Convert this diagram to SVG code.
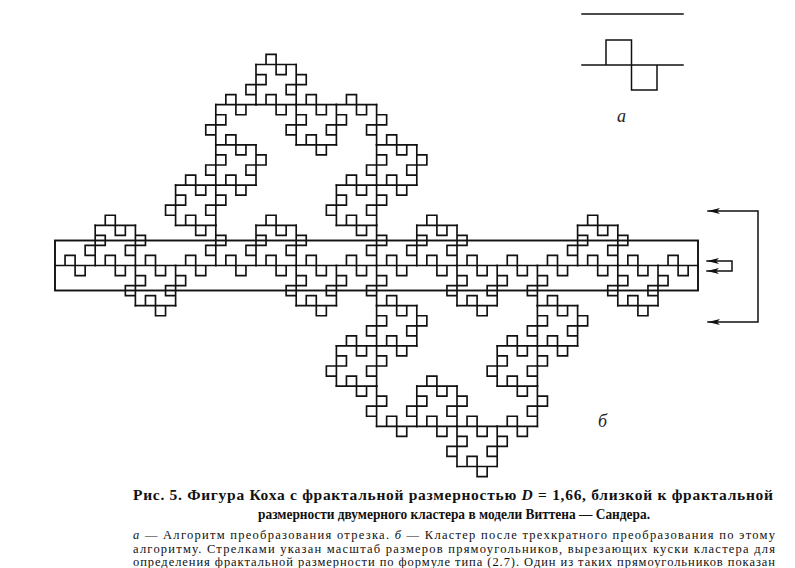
<svg xmlns="http://www.w3.org/2000/svg" width="795" height="568" viewBox="0 0 795 568">
<style>
.ln{fill:none;stroke:#111;stroke-width:1.5;stroke-linecap:square}
.fr{fill:none;stroke:#111;stroke-width:0.165;stroke-linecap:square}
.cap{font-family:"Liberation Serif","DejaVu Serif",serif;fill:#111}
.big{font-size:15.5px;font-weight:bold}
.small{font-size:12.5px}
.lbl{font-family:"Liberation Serif","DejaVu Serif",serif;font-style:italic;font-size:18px;fill:#222}
</style>
<defs>
<marker id="ah" viewBox="0 0 12 8" refX="12" refY="4" markerWidth="12" markerHeight="8" markerUnits="userSpaceOnUse" orient="auto-start-reverse">
<path d="M0,1 L12,4 L0,7 L3,4 Z" fill="#111"/>
</marker>
<path id="g3" d="M0,0H4M1,0V-1H2V1H3V0"/>
<g id="g2">
<use href="#g3"/>
<use href="#g3" transform="translate(4,0)"/>
<use href="#g3" transform="translate(8,0)"/>
<use href="#g3" transform="translate(12,0)"/>
<use href="#g3" transform="translate(4,0) rotate(-90)"/>
<use href="#g3" transform="translate(4,-4)"/>
<use href="#g3" transform="translate(8,-4) rotate(90)"/>
<use href="#g3" transform="translate(8,0) rotate(90)"/>
<use href="#g3" transform="translate(8,4)"/>
<use href="#g3" transform="translate(12,4) rotate(-90)"/>
</g>
</defs>

<g id="generator">
<path class="ln" d="M582,14 H683"/>
<path class="ln" d="M582,65 H683 M606,65 V40 H631.5 V90 H657 V65"/>
<text class="lbl" x="617" y="122">а</text>
</g>

<g id="fractal" class="fr" transform="translate(55,265.5) scale(10.05)">
<use href="#g2"/>
<use href="#g2" transform="translate(16,0)"/>
<use href="#g2" transform="translate(32,0)"/>
<use href="#g2" transform="translate(48,0)"/>
<use href="#g2" transform="translate(16,0) rotate(-90)"/>
<use href="#g2" transform="translate(16,-16)"/>
<use href="#g2" transform="translate(32,-16) rotate(90)"/>
<use href="#g2" transform="translate(32,0) rotate(90)"/>
<use href="#g2" transform="translate(32,16)"/>
<use href="#g2" transform="translate(48,16) rotate(-90)"/>
</g>

<g id="rectangle">
<rect class="ln" x="55" y="240.5" width="643" height="50" style="stroke-width:1.9"/>
</g>

<g id="connectors">
<path class="ln" d="M708,211 H758 V322 H708" marker-start="url(#ah)" marker-end="url(#ah)"/>
<path class="ln" d="M707,261 H732 V271 H707" marker-start="url(#ah)" marker-end="url(#ah)"/>
</g>

<text class="lbl" x="598" y="427">б</text>

<g id="caption" class="cap">
<text class="big" x="133" y="500" textLength="640" lengthAdjust="spacing">Рис. 5. Фигура Коха с фрактальной размерностью <tspan font-style="italic">D</tspan> = 1,66, близкой к фрактальной</text>
<text class="big" x="258" y="519" textLength="392" lengthAdjust="spacingAndGlyphs">размерности двумерного кластера в модели Виттена — Сандера.</text>
<text class="small" x="133" y="539" textLength="642" lengthAdjust="spacing"><tspan font-style="italic">а</tspan> — Алгоритм преобразования отрезка. <tspan font-style="italic">б</tspan> — Кластер после трехкратного преобразования по этому</text>
<text class="small" x="133" y="553" textLength="642" lengthAdjust="spacing">алгоритму. Стрелками указан масштаб размеров прямоугольников, вырезающих куски кластера для</text>
<text class="small" x="133" y="566" textLength="642" lengthAdjust="spacing">определения фрактальной размерности по формуле типа (2.7). Один из таких прямоугольников показан</text>
</g>
</svg>
